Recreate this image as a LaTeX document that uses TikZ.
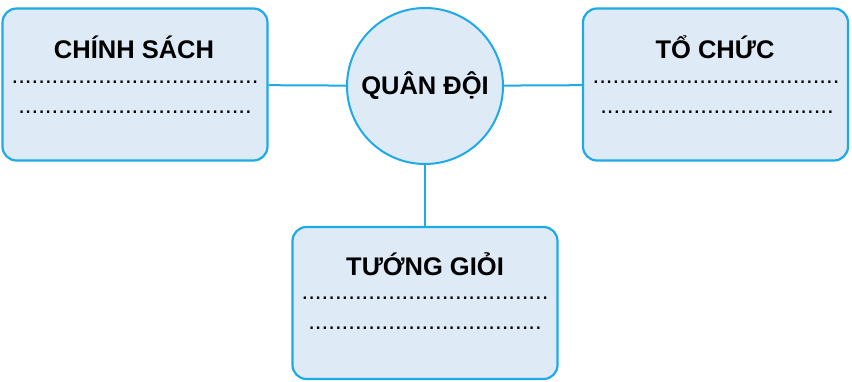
\documentclass[tikz,border=0pt]{standalone}
\usepackage{fontspec}
\setmainfont{Liberation Sans}
\usepackage{xcolor}
\usetikzlibrary{positioning}

\definecolor{boxline}{HTML}{1EAAE7}
\definecolor{boxfill}{HTML}{DEEAF6}

\begin{document}
\begin{tikzpicture}[x=1pt, y=-1pt,
    card/.style={rectangle, draw=boxline, fill=boxfill, line width=2.2pt, rounded corners=14pt, minimum width=265pt, minimum height=152pt},
    hub/.style={circle, draw=boxline, fill=boxfill, line width=2pt, minimum size=156pt, inner sep=0pt, font=\fontsize{25.5}{28}\selectfont\bfseries},
    title/.style={font=\fontsize{25.5}{28}\selectfont\bfseries, inner sep=0pt},
    dots/.style={font=\fontsize{24}{26}\selectfont, inner sep=0pt},
    link/.style={draw=boxline, line width=2pt}
]
    \useasboundingbox (0,0) rectangle (852,382);
    \node [card] (policy) at (135, 84.5) {};
    \node [card] (org) at (715.5, 84.5) {};
    \node [card] (general) at (425, 303) {};
    \node [hub] (army) at (425, 86) {QUÂN ĐỘI};

    \node [title] (policyT) at (134, 47) {CHÍNH SÁCH};
    \node [dots] (policyA) at (135, 82) {.....................................};
    \node [dots] (policyB) at (135, 112) {...................................};

    \node [title] (orgT) at (715, 47) {TỔ CHỨC};
    \node [dots] (orgA) at (716, 82) {.....................................};
    \node [dots] (orgB) at (717, 112) {...................................};

    \node [title] (generalT) at (425, 264) {TƯỚNG GIỎI};
    \node [dots] (generalA) at (425, 298) {.....................................};
    \node [dots] (generalB) at (425, 328) {...................................};

    \draw [link] (policy) -- (army);
    \draw [link] (army) -- (org);
    \draw [link] (army) -- (general);
\end{tikzpicture}
\end{document}
